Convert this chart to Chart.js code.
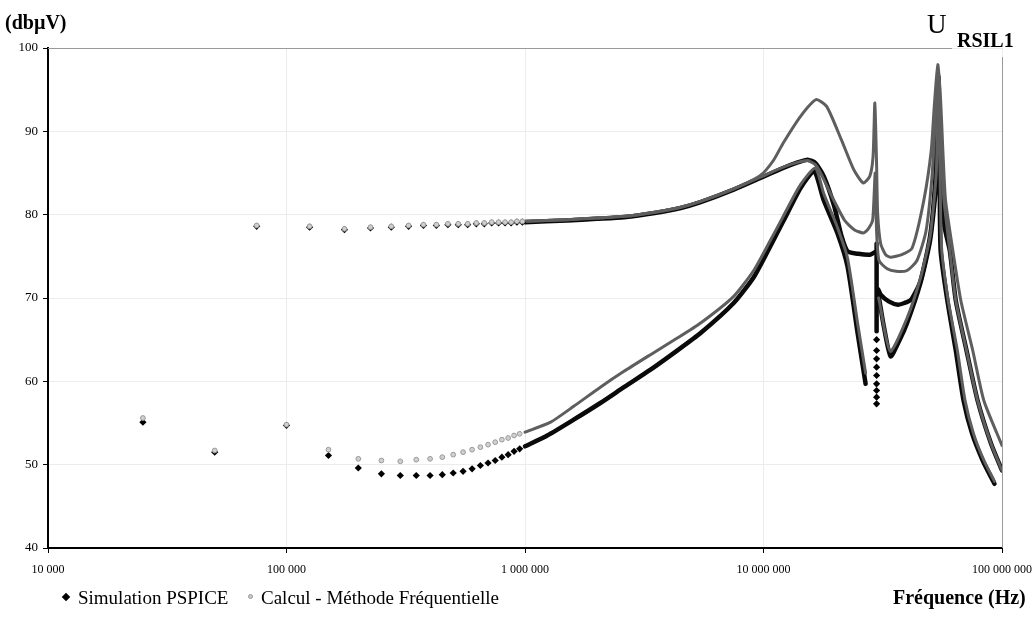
<!DOCTYPE html>
<html>
<head>
<meta charset="utf-8">
<title>U RSIL1</title>
<script src="https://cdn.jsdelivr.net/npm/chart.js@4.4.1/dist/chart.umd.min.js"></script>
<style>
    body { margin: 0; background: #fff; }
    #wrap { position: relative; width: 1035px; height: 625px; font-family: "Liberation Serif", "Times New Roman", serif; color: #000; }
    .lbl { position: absolute; white-space: nowrap; line-height: 1; }
    .diamond { position: absolute; width: 6px; height: 6px; background: #000; transform: rotate(45deg); }
    .dot { position: absolute; width: 5px; height: 5px; border-radius: 50%; background: #c8c8c8; border: 1px solid #999; box-sizing: border-box; }
</style>
</head>
<body>
<div id="wrap">
    <canvas id="rsilChart" width="1035" height="625"></canvas>
    <div class="lbl" style="left:5px; top:12px; font-size:20px; font-weight:bold;">(dbµV)</div>
    <div class="lbl" style="left:927px; top:11px; font-size:27px;">U</div>
    <div class="lbl" style="left:957px; top:30px; font-size:20px; font-weight:bold;">RSIL1</div>
    <div class="lbl" style="left:893px; top:587px; font-size:20px; font-weight:bold;">Fréquence (Hz)</div>
    <span class="diamond" style="left:63px; top:594px;"></span>
    <div class="lbl" style="left:78px; top:588px; font-size:19px;">Simulation PSPICE</div>
    <span class="dot" style="left:248px; top:594px;"></span>
    <div class="lbl" style="left:261px; top:588px; font-size:19px;">Calcul - Méthode Fréquentielle</div>
</div>

<script>
// axis ticks
const xTickValues = [1e4, 1e5, 1e6, 1e7, 1e8];
const yMin = 40;
const yMax = 100;

// sparse low-frequency samples, branch A (lower curve)
const freqLowA = [25000, 50000, 100000, 150000, 200000, 250000, 300000, 350000, 400000, 450000, 500000, 550000, 600000, 650000, 700000, 750000, 800000, 850000, 900000, 950000];
const pspiceLowA = [55.1, 51.5, 54.7, 51.1, 49.6, 48.9, 48.7, 48.7, 48.7, 48.8, 49.0, 49.2, 49.5, 49.9, 50.2, 50.5, 50.9, 51.2, 51.6, 51.9];
const calculLowA = [55.6, 51.7, 54.8, 51.8, 50.7, 50.5, 50.4, 50.6, 50.7, 50.9, 51.2, 51.5, 51.8, 52.1, 52.4, 52.7, 53.0, 53.2, 53.5, 53.7];

// sparse low-frequency samples, branch B (upper curve)
const freqLowB = [75000, 125000, 175000, 225000, 275000, 325000, 375000, 425000, 475000, 525000, 575000, 625000, 675000, 725000, 775000, 825000, 875000, 925000, 975000];
const pspiceLowB = [78.6, 78.5, 78.2, 78.4, 78.5, 78.6, 78.7, 78.7, 78.8, 78.8, 78.8, 78.9, 78.9, 79.0, 79.0, 79.0, 79.0, 79.1, 79.1];
const calculLowB = [78.7, 78.6, 78.3, 78.5, 78.6, 78.7, 78.8, 78.8, 78.9, 78.9, 78.9, 79.0, 79.0, 79.1, 79.1, 79.1, 79.1, 79.2, 79.2];

// dense part (points so close they read as a thick trace), null = break
const freqPspiceUp = [1e6, 1.5e6, 2e6, 2.6e6, 3.5e6, 4.5e6, 5.45e6, 7.5e6, 9.7e6, 12.1e6, 14e6, 15.3e6, 16.5e6, 17.9e6, 19.8e6, 21.2e6, 22.5e6, 25e6, 28e6, 29.3e6, 29.6e6, 30.3e6, 31e6, 33.5e6, 36.6e6, 39e6, 41.6e6, 45.5e6, 50e6, 52.5e6, 54e6, 55.3e6, 57.5e6, 60.4e6, 64e6, 71e6, 79e6, 90e6, 100e6];
const pspiceUp = [79.1, 79.3, 79.5, 79.7, 80.2, 80.8, 81.5, 83.0, 84.4, 85.6, 86.3, 86.6, 86.2, 84.6, 81.0, 77.5, 75.6, 75.3, 75.2, 75.5, null, 71.0, 70.4, 69.6, 69.2, 69.4, 69.8, 72.0, 77.5, 84.0, 92.0, 85.0, 78.5, 75.7, 69.7, 63.7, 57.7, 52.5, 49.3];

const freqPspiceDown = [1e6, 1.24e6, 1.6e6, 2.07e6, 2.6e6, 3.36e6, 4.3e6, 5.45e6, 7.5e6, 9.1e6, 10.5e6, 12.1e6, 14.3e6, 16.3e6, 17.9e6, 20.4e6, 22.5e6, 24.8e6, 26.8e6, 28e6, 29.8e6, 29.8e6, 30e6, 30.3e6, 32e6, 34.1e6, 37e6, 40e6, 45.5e6, 50e6, 53e6, 54.2e6, 54.8e6, 55.3e6, 59e6, 64e6, 69e6, 75e6, 83e6, 90e6, 93e6];
const pspiceDown = [52.2, 53.5, 55.4, 57.4, 59.3, 61.4, 63.6, 65.8, 69.4, 72.5, 75.8, 79.2, 83.2, 85.2, 81.7, 77.8, 73.8, 65.8, 59.7, null, 76.5, 66.0, null, 70.5, 66.5, 63.0, 64.8, 67.0, 71.8, 77.0, 84.0, 96.5, 86.0, 75.7, 69.7, 63.7, 57.7, 53.7, 50.5, 48.5, 47.7];

// isolated PSPICE dots below the 29.8 MHz column
const freqColumn = [29.8e6, 29.8e6, 29.8e6, 29.8e6, 29.8e6, 29.8e6, 29.8e6, 29.8e6, 29.8e6];
const pspiceColumn = [65.0, 63.7, 62.7, 61.7, 60.7, 59.7, 58.9, 58.1, 57.3];

const freqCalculPeak = [1e6, 1.5e6, 2e6, 2.6e6, 3.5e6, 4.5e6, 5.45e6, 7.5e6, 9.7e6, 11e6, 12.1e6, 14.3e6, 16.6e6, 18.4e6, 21.2e6, 23.9e6, 26.2e6, 27.9e6, 28.8e6, 29.3e6, 29.8e6, 30.1e6, 31e6, 32.5e6, 34e6, 38e6, 42e6, 47e6, 50.5e6, 52e6, 53.8e6, 55.3e6, 56.5e6, 58e6, 62.2e6, 67.2e6, 75.4e6, 83.9e6, 100e6];
const calculPeak = [79.2, 79.4, 79.6, 79.8, 80.3, 80.9, 81.6, 83.1, 84.7, 86.5, 88.6, 91.8, 93.8, 93.0, 89.0, 85.4, 83.8, 84.6, 87.0, 93.4, 86.0, 80.2, 76.5, 75.2, 74.9, 75.2, 76.0, 81.7, 87.7, 93.0, 98.0, 93.7, 87.7, 81.7, 75.7, 69.7, 63.7, 57.7, 52.3];

const freqCalculUp = [1e6, 1.5e6, 2e6, 2.6e6, 3.5e6, 4.5e6, 5.45e6, 7.5e6, 9.7e6, 12.1e6, 14e6, 15.3e6, 16.5e6, 17.5e6, 19.5e6, 21.9e6, 24e6, 26.2e6, 27.5e6, 28.7e6, 29.4e6, 29.8e6, 30.5e6, 33e6, 36e6, 40e6, 44e6, 48e6, 51e6, 53.5e6, 55e6, 57e6, 60.4e6, 64e6, 71e6, 79e6, 90e6, 100e6];
const calculUp = [79.2, 79.4, 79.6, 79.8, 80.3, 80.9, 81.6, 83.1, 84.5, 85.7, 86.3, 86.5, 86.0, 84.8, 82.0, 79.3, 78.2, 77.8, 78.3, 79.4, 85.0, 78.0, 74.5, 73.5, 73.2, 73.3, 74.5, 78.0, 85.0, 95.0, 90.0, 82.0, 75.7, 69.7, 63.7, 57.7, 52.5, 49.3];

const freqCalculDown = [1e6, 1.28e6, 1.6e6, 2.07e6, 2.6e6, 3.36e6, 4.3e6, 5.45e6, 7.5e6, 9.1e6, 10.5e6, 12.1e6, 14.3e6, 16.5e6, 17.9e6, 20.4e6, 22.5e6, 24.8e6, 26.8e6, 28e6, 30.4e6, 34e6, 40e6, 45.5e6, 50e6, 53e6, 54.3e6, 55e6, 55.8e6, 59.5e6, 65e6, 70e6, 76e6, 84e6, 93e6];
const calculDown = [53.9, 55.1, 57.0, 59.3, 61.2, 63.2, 65.1, 67.0, 70.2, 73.3, 76.5, 79.8, 83.6, 85.6, 82.5, 78.5, 74.8, 67.0, 61.0, null, 70.0, 63.6, 67.6, 72.4, 77.5, 85.0, 97.0, 85.0, 76.0, 69.7, 63.7, 57.7, 53.7, 50.5, 48.0];

const FONT = "'Liberation Serif', 'Times New Roman', serif";

function toPoints(freqs, values) {
    return freqs.map((f, i) => ({ x: f, y: values[i] }));
}

// split a trace at null values so every piece is its own smooth line
function toSegments(freqs, values) {
    const parts = [];
    let cur = [];
    freqs.forEach((f, i) => {
        if (values[i] === null) {
            if (cur.length) parts.push(cur);
            cur = [];
        } else {
            cur.push({ x: f, y: values[i] });
        }
    });
    if (cur.length) parts.push(cur);
    return parts;
}

function formatFreq(v) {
    return String(Math.round(v)).replace(/\B(?=(\d{3})+(?!\d))/g, " ");
}

function markerSet(data, kind) {
    if (kind === "pspice") {
        return { data: data, showLine: false, pointStyle: "rectRot", pointRadius: 3.6,
                 backgroundColor: "#000", borderColor: "#000", borderWidth: 0 };
    }
    return { data: data, showLine: false, pointStyle: "circle", pointRadius: 2.4,
             backgroundColor: "#cfcfcf", borderColor: "#9a9a9a", borderWidth: 1 };
}

function traceSets(freqs, values, kind) {
    return toSegments(freqs, values).map(seg => ({
        data: seg,
        showLine: true,
        pointRadius: 0,
        tension: 0.2,
        borderColor: kind === "pspice" ? "#0a0a0a" : "#5e5e5e",
        borderWidth: kind === "pspice" ? 4.5 : 3,
        borderCapStyle: "round",
        borderJoinStyle: "round"
    }));
}

// first dataset is drawn on top
const datasets = [
    markerSet(toPoints(freqLowA, calculLowA), "calcul"),
    markerSet(toPoints(freqLowB, calculLowB), "calcul"),
    markerSet(toPoints(freqLowA, pspiceLowA), "pspice"),
    markerSet(toPoints(freqLowB, pspiceLowB), "pspice"),
    markerSet(toPoints(freqColumn, pspiceColumn), "pspice"),
    ...traceSets(freqCalculPeak, calculPeak, "calcul"),
    ...traceSets(freqCalculUp, calculUp, "calcul"),
    ...traceSets(freqCalculDown, calculDown, "calcul"),
    ...traceSets(freqPspiceUp, pspiceUp, "pspice"),
    ...traceSets(freqPspiceDown, pspiceDown, "pspice")
];

// thin grey frame on top and right, interrupted by the U RSIL1 label
const framePlugin = {
    id: "frame",
    beforeDatasetsDraw(chart) {
        const a = chart.chartArea;
        const ctx = chart.ctx;
        ctx.save();
        ctx.strokeStyle = "#9a9a9a";
        ctx.lineWidth = 1;
        ctx.beginPath();
        ctx.moveTo(a.left, a.top + 0.5);
        ctx.lineTo(952, a.top + 0.5);
        ctx.moveTo(a.right + 0.5, 57);
        ctx.lineTo(a.right + 0.5, a.bottom);
        ctx.stroke();
        ctx.restore();
    }
};

new Chart(document.getElementById("rsilChart"), {
    type: "scatter",
    data: { datasets: datasets },
    plugins: [framePlugin],
    options: {
        responsive: false,
        animation: false,
        layout: { padding: { top: 48, right: 0, left: 0, bottom: 0 } },
        plugins: {
            legend: { display: false },
            tooltip: { enabled: false }
        },
        scales: {
            x: {
                type: "logarithmic",
                min: 1e4,
                max: 1e8,
                afterBuildTicks: scale => {
                    scale.ticks = xTickValues.map(v => ({ value: v }));
                },
                afterFit: scale => {
                    scale.height = 77;
                    scale.paddingRight = 33;
                },
                ticks: {
                    callback: v => formatFreq(v),
                    font: { family: FONT, size: 12 },
                    color: "#000",
                    padding: 10,
                    maxRotation: 0,
                    autoSkip: false
                },
                grid: { color: "#ececec", tickColor: "#000", tickLength: 5 },
                border: { color: "#000", width: 2 }
            },
            y: {
                min: yMin,
                max: yMax,
                afterFit: scale => { scale.width = 48; },
                ticks: {
                    stepSize: 10,
                    font: { family: FONT, size: 13 },
                    color: "#000",
                    padding: 5
                },
                grid: { color: "#ececec", tickColor: "#000", tickLength: 5 },
                border: { color: "#000", width: 2 }
            }
        }
    }
});
</script>
</body>
</html>
